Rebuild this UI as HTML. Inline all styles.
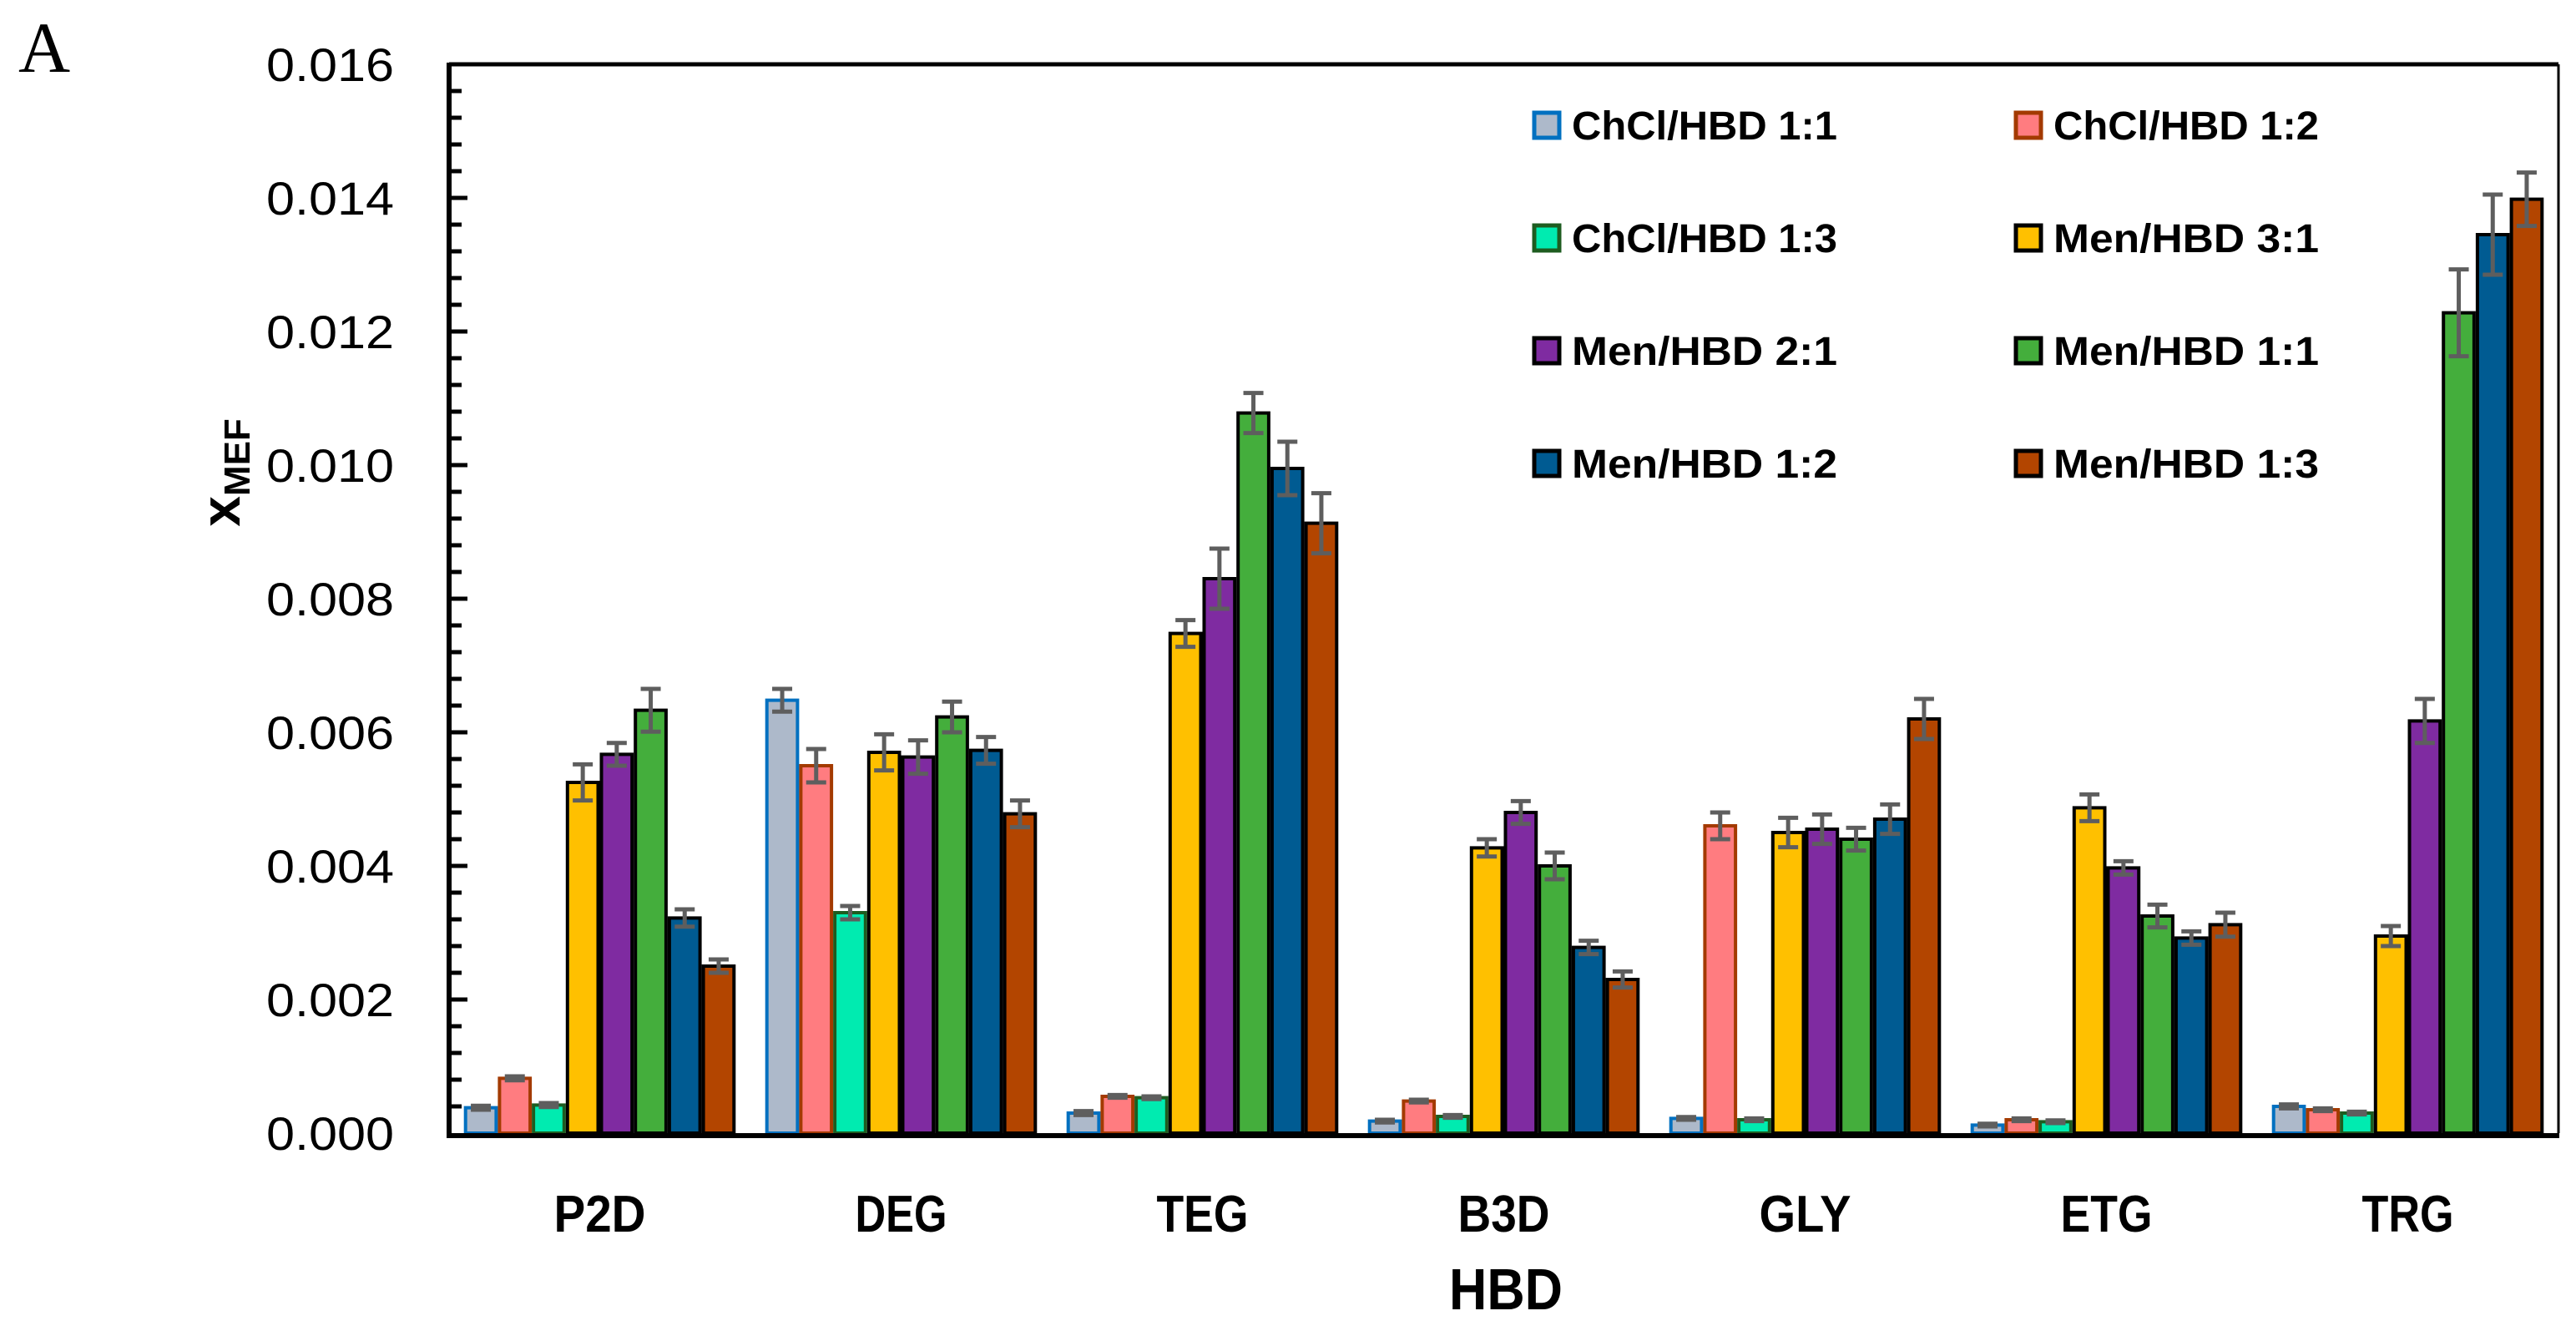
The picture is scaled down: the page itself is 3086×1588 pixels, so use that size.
<!DOCTYPE html>
<html><head><meta charset="utf-8"><style>
html,body{margin:0;padding:0;background:#fff;}
svg{display:block;}
</style></head><body>
<svg id="chart" width="3086" height="1588" viewBox="0 0 3086 1588" xmlns="http://www.w3.org/2000/svg">
<text x="22" y="86" font-family="Liberation Serif, serif" font-size="86">A</text>
<g id="plot"></g>
<g id="legend"></g>
<text transform="translate(287,566) rotate(-90)" text-anchor="middle" font-family="Liberation Sans, sans-serif" font-weight="bold" font-size="66">x<tspan font-size="44" dy="12">MEF</tspan></text>
<text x="1804" y="1568" text-anchor="middle" font-family="Liberation Sans, sans-serif" font-weight="bold" font-size="70" textLength="136" lengthAdjust="spacingAndGlyphs">HBD</text>
</svg>
<script>
const categories = ["P2D","DEG","TEG","B3D","GLY","ETG","TRG"];
const seriesNames = ["ChCl/HBD 1:1","ChCl/HBD 1:2","ChCl/HBD 1:3","Men/HBD 3:1","Men/HBD 2:1","Men/HBD 1:1","Men/HBD 1:2","Men/HBD 1:3"];
const chcl11 = [0.00038,0.00648,0.00030,0.00018,0.00022,0.00012,0.00040];
const chcl12 = [0.00082,0.00550,0.00055,0.00048,0.00460,0.00020,0.00035];
const chcl13 = [0.00042,0.00330,0.00053,0.00025,0.00020,0.00017,0.00030];
const men31 = [0.00525,0.00570,0.00748,0.00427,0.00450,0.00487,0.00295];
const men21 = [0.00567,0.00563,0.00830,0.00480,0.00455,0.00397,0.00617];
const men11 = [0.00633,0.00623,0.01078,0.00400,0.00440,0.00325,0.01228];
const men12 = [0.00322,0.00573,0.00995,0.00278,0.00470,0.00292,0.01345];
const men13 = [0.00250,0.00478,0.00913,0.00230,0.00620,0.00312,0.01398];
const err11 = [0.00003,0.00017,0.00003,0.00002,0.00002,0.00002,0.00003];
const err12 = [0.00003,0.00025,0.00002,0.00002,0.00020,0.00002,0.00002];
const err13 = [0.00003,0.00010,0.00002,0.00002,0.00002,0.00002,0.00002];
const err31 = [0.00027,0.00027,0.00020,0.00013,0.00022,0.00020,0.00015];
const err21 = [0.00017,0.00025,0.00045,0.00017,0.00022,0.00010,0.00033];
const errM11 = [0.00032,0.00023,0.00030,0.00020,0.00017,0.00017,0.00065];
const errM12 = [0.00013,0.00020,0.00040,0.00010,0.00022,0.00010,0.00060];
const errM13 = [0.00010,0.00020,0.00045,0.00012,0.00030,0.00018,0.00040];
const yTicks = ["0.000","0.002","0.004","0.006","0.008","0.010","0.012","0.014","0.016"];

const values=[chcl11,chcl12,chcl13,men31,men21,men11,men12,men13];
const errs=[err11,err12,err13,err31,err21,errM11,errM12,errM13];
const fills=["#ADB9CA","#FF7C80","#00EBB0","#FFC000","#7F2BA1","#44AE3C","#005B92","#B34500"];
const strokes=["#0070C0","#A33A00","#1E5C20","#000","#000","#000","#000","#000"];
const NS="http://www.w3.org/2000/svg";
const L=538,R=3065,T=77,B=1357,yMax=0.016;
const y=v=>B-(v/yMax)*(B-T);
const gw=(R-L)/categories.length, bw=40.7;
const x=(c,s)=>L+gw*(c+0.5)+(s-4)*bw;
const plot=document.getElementById('plot');
function mk(tag,attrs,parent){const e=document.createElementNS(NS,tag);for(const k in attrs)e.setAttribute(k,attrs[k]);parent.appendChild(e);return e;}
// bars
for(let s=0;s<values.length;s++){
  for(let c=0;c<categories.length;c++){
    const v=values[s][c];
    const r=mk('rect',{x:x(c,s)+2,y:y(v),width:bw-4,height:B-y(v),fill:fills[s],stroke:strokes[s],'stroke-width':4},plot);
    
    
  }
}
// error bars
for(let s=0;s<values.length;s++){
  for(let c=0;c<categories.length;c++){
    const v=values[s][c],e=errs[s][c],cx=x(c,s)+bw/2;
    const g=mk('g',{stroke:'#5E5E5E','stroke-width':5,fill:'none'},plot);
    
    
    mk('line',{x1:cx,x2:cx,y1:y(v+e),y2:y(v-e)},g);
    mk('line',{x1:cx-12,x2:cx+12,y1:y(v+e),y2:y(v+e)},g);
    mk('line',{x1:cx-12,x2:cx+12,y1:y(v-e),y2:y(v-e)},g);
  }
}
// frame
const fr=mk('g',{stroke:'#000',fill:'none'},plot);


mk('line',{x1:L,x2:R,y1:T,y2:T,'stroke-width':5},fr);
mk('line',{x1:R,x2:R,y1:T,y2:B,'stroke-width':3},fr);
mk('line',{x1:L,x2:L,y1:T-2,y2:B+3,'stroke-width':6},fr);
mk('line',{x1:L-3,x2:R+1,y1:B+3,y2:B+3,'stroke-width':6},fr);
// y ticks
for(let i=0;i<yTicks.length;i++){
  const v=parseFloat(yTicks[i]),yy=y(v);
  if(i>0&&i<yTicks.length-1){const t=mk('line',{x1:L,x2:L+22,y1:yy,y2:yy,stroke:'#000','stroke-width':5},plot);
  }
  const tx=mk('text',{x:472,y:yy+20,'text-anchor':'end','font-family':'Liberation Sans, sans-serif','font-size':56,textLength:153,lengthAdjust:'spacingAndGlyphs'},plot);
  tx.textContent=yTicks[i];
  
  
  if(i<yTicks.length-1){
    const next=parseFloat(yTicks[i+1]);
    for(let k=1;k<5;k++){const mv=v+(next-v)*k/5,my=y(mv);
      const m=mk('line',{x1:L,x2:L+15,y1:my,y2:my,stroke:'#000','stroke-width':5},plot);
      }
  }
}
// x labels
for(let c=0;c<categories.length;c++){
  const t=mk('text',{x:L+gw*(c+0.5),y:1475,'text-anchor':'middle','font-family':'Liberation Sans, sans-serif','font-weight':'bold','font-size':62,textLength:110,lengthAdjust:'spacingAndGlyphs'},plot);
  t.textContent=categories[c];
  
  
}
// legend
const leg=document.getElementById('legend');
for(let s=0;s<seriesNames.length;s++){
  const col=s%2,row=Math.floor(s/2);
  const lx=col?2413:1836, ly=133+row*135;
  const g=mk('g',{},leg);
  
  
  mk('rect',{x:lx+2,y:ly+2,width:30,height:30,fill:fills[s],stroke:strokes[s],'stroke-width':5},g);
  const t=mk('text',{x:lx+47,y:ly+34,'font-family':'Liberation Sans, sans-serif','font-weight':'bold','font-size':48,textLength:318,lengthAdjust:'spacingAndGlyphs'},g);
  t.textContent=seriesNames[s];
}
</script>
</body></html>
